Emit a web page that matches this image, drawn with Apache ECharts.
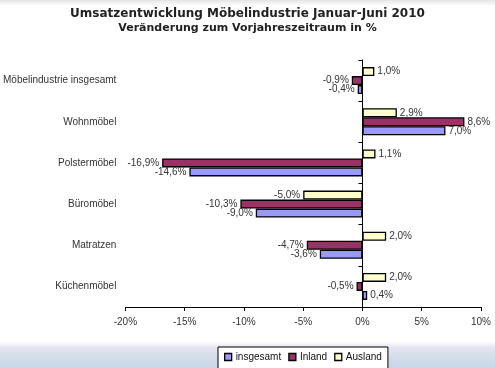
<!DOCTYPE html>
<html><head><meta charset="utf-8">
<script src="https://cdn.jsdelivr.net/npm/echarts@6/dist/echarts.min.js"></script>
<style>html,body{margin:0;padding:0;background:#fff}#c{width:495px;height:368px}</style>
</head><body><div id="c"></div>
<script>
var categories = ['Möbelindustrie insgesamt','Wohnmöbel','Polstermöbel','Büromöbel','Matratzen','Küchenmöbel'];
var insgesamt = [-0.4, 7.0, -14.6, -9.0, -3.6, 0.4];
var inland = [-0.9, 8.6, -16.9, -10.3, -4.7, -0.5];
var ausland = [1.0, 2.9, 1.1, -5.0, 2.0, 2.0];
var xTicks = {min: -20, max: 10, step: 5};

var FONT = 'Liberation Sans, Arial, sans-serif';
function fmt(v){ return v.toFixed(1).replace('.', ',') + '%'; }
function mk(arr){
  return arr.map(function(v){
    return {value: v, label: {position: v < 0 ? 'left' : 'right'}};
  });
}
function series(name, arr, color){
  return {
    name: name, type: 'bar', data: mk(arr), yAxisIndex: 0,
    barWidth: 9, barGap: '0%',
    itemStyle: {color: color, borderColor: '#000', borderWidth: 1.3},
    label: {show: true, distance: 3, fontSize: 10, fontFamily: FONT, color: '#333',
      formatter: function(p){ return fmt(p.value); }},
    emphasis: {disabled: true}
  };
}
var chart = echarts.init(document.getElementById('c'), null, {renderer: 'canvas'});
chart.setOption({
  animation: false,
  backgroundColor: '#fff',
  graphic: [
    {type: 'rect', silent: true, z: -10, shape: {x: 0, y: 341, width: 495, height: 27},
     style: {fill: new echarts.graphic.LinearGradient(0, 0, 0, 1, [
       {offset: 0, color: '#ffffff'}, {offset: 0.25, color: '#e6e4f0'}, {offset: 0.6, color: '#d3dcea'}, {offset: 1, color: '#c8d6e7'}])}},
    {type: 'rect', silent: true, z: -10, shape: {x: 0, y: 0, width: 495, height: 6},
     style: {fill: new echarts.graphic.LinearGradient(0, 0, 0, 1, [
       {offset: 0, color: '#e4e4e4'}, {offset: 1, color: '#ffffff'}])}}
  ],
  title: [
    {text: 'Umsatzentwicklung Möbelindustrie Januar-Juni 2010', left: 'center', top: 3,
     textStyle: {fontFamily: 'DejaVu Sans', fontWeight: 'bold', fontSize: 12, color: '#222'}},
    {text: 'Veränderung zum Vorjahreszeitraum in %', left: 'center', top: 18,
     textStyle: {fontFamily: 'DejaVu Sans', fontWeight: 'bold', fontSize: 11, color: '#222'}}
  ],
  legend: {
    data: ['insgesamt', 'Inland', 'Ausland'],
    left: 218, top: 347, padding: [5, 6, 8, 6], itemGap: 7, icon: 'rect',
    itemWidth: 7, itemHeight: 7, borderColor: '#000', borderWidth: 1, backgroundColor: '#fff',
    textStyle: {fontFamily: FONT, fontSize: 10, color: '#111', padding: [0, 0, 0, -1]},
    itemStyle: {borderColor: '#000', borderWidth: 1.3}
  },
  grid: {left: 121, right: 14, top: 60, bottom: 61, containLabel: false},
  xAxis: {
    type: 'value', min: xTicks.min, max: xTicks.max, interval: xTicks.step,
    axisLine: {show: true, lineStyle: {color: '#000', width: 1}},
    axisTick: {show: true, length: 4, lineStyle: {color: '#000'}},
    axisLabel: {fontFamily: FONT, fontSize: 10, color: '#333', margin: 10, formatter: '{value}%'},
    splitLine: {show: false}
  },
  yAxis: [
    {type: 'category', data: categories, inverse: true,
     axisLine: {show: true, onZero: true, lineStyle: {color: '#000'}},
     axisTick: {show: true, length: 4, lineStyle: {color: '#000'}},
     axisLabel: {show: false}},
    {type: 'category', data: categories, inverse: true, position: 'left',
     axisLine: {show: false, onZero: false}, axisTick: {show: false},
     axisLabel: {fontFamily: FONT, fontSize: 10, color: '#333', margin: 9}}
  ],
  series: [
    series('Ausland', ausland, '#ffffcc'),
    series('Inland', inland, '#993366'),
    series('insgesamt', insgesamt, '#9999ff')
  ]
});
</script></body></html>
